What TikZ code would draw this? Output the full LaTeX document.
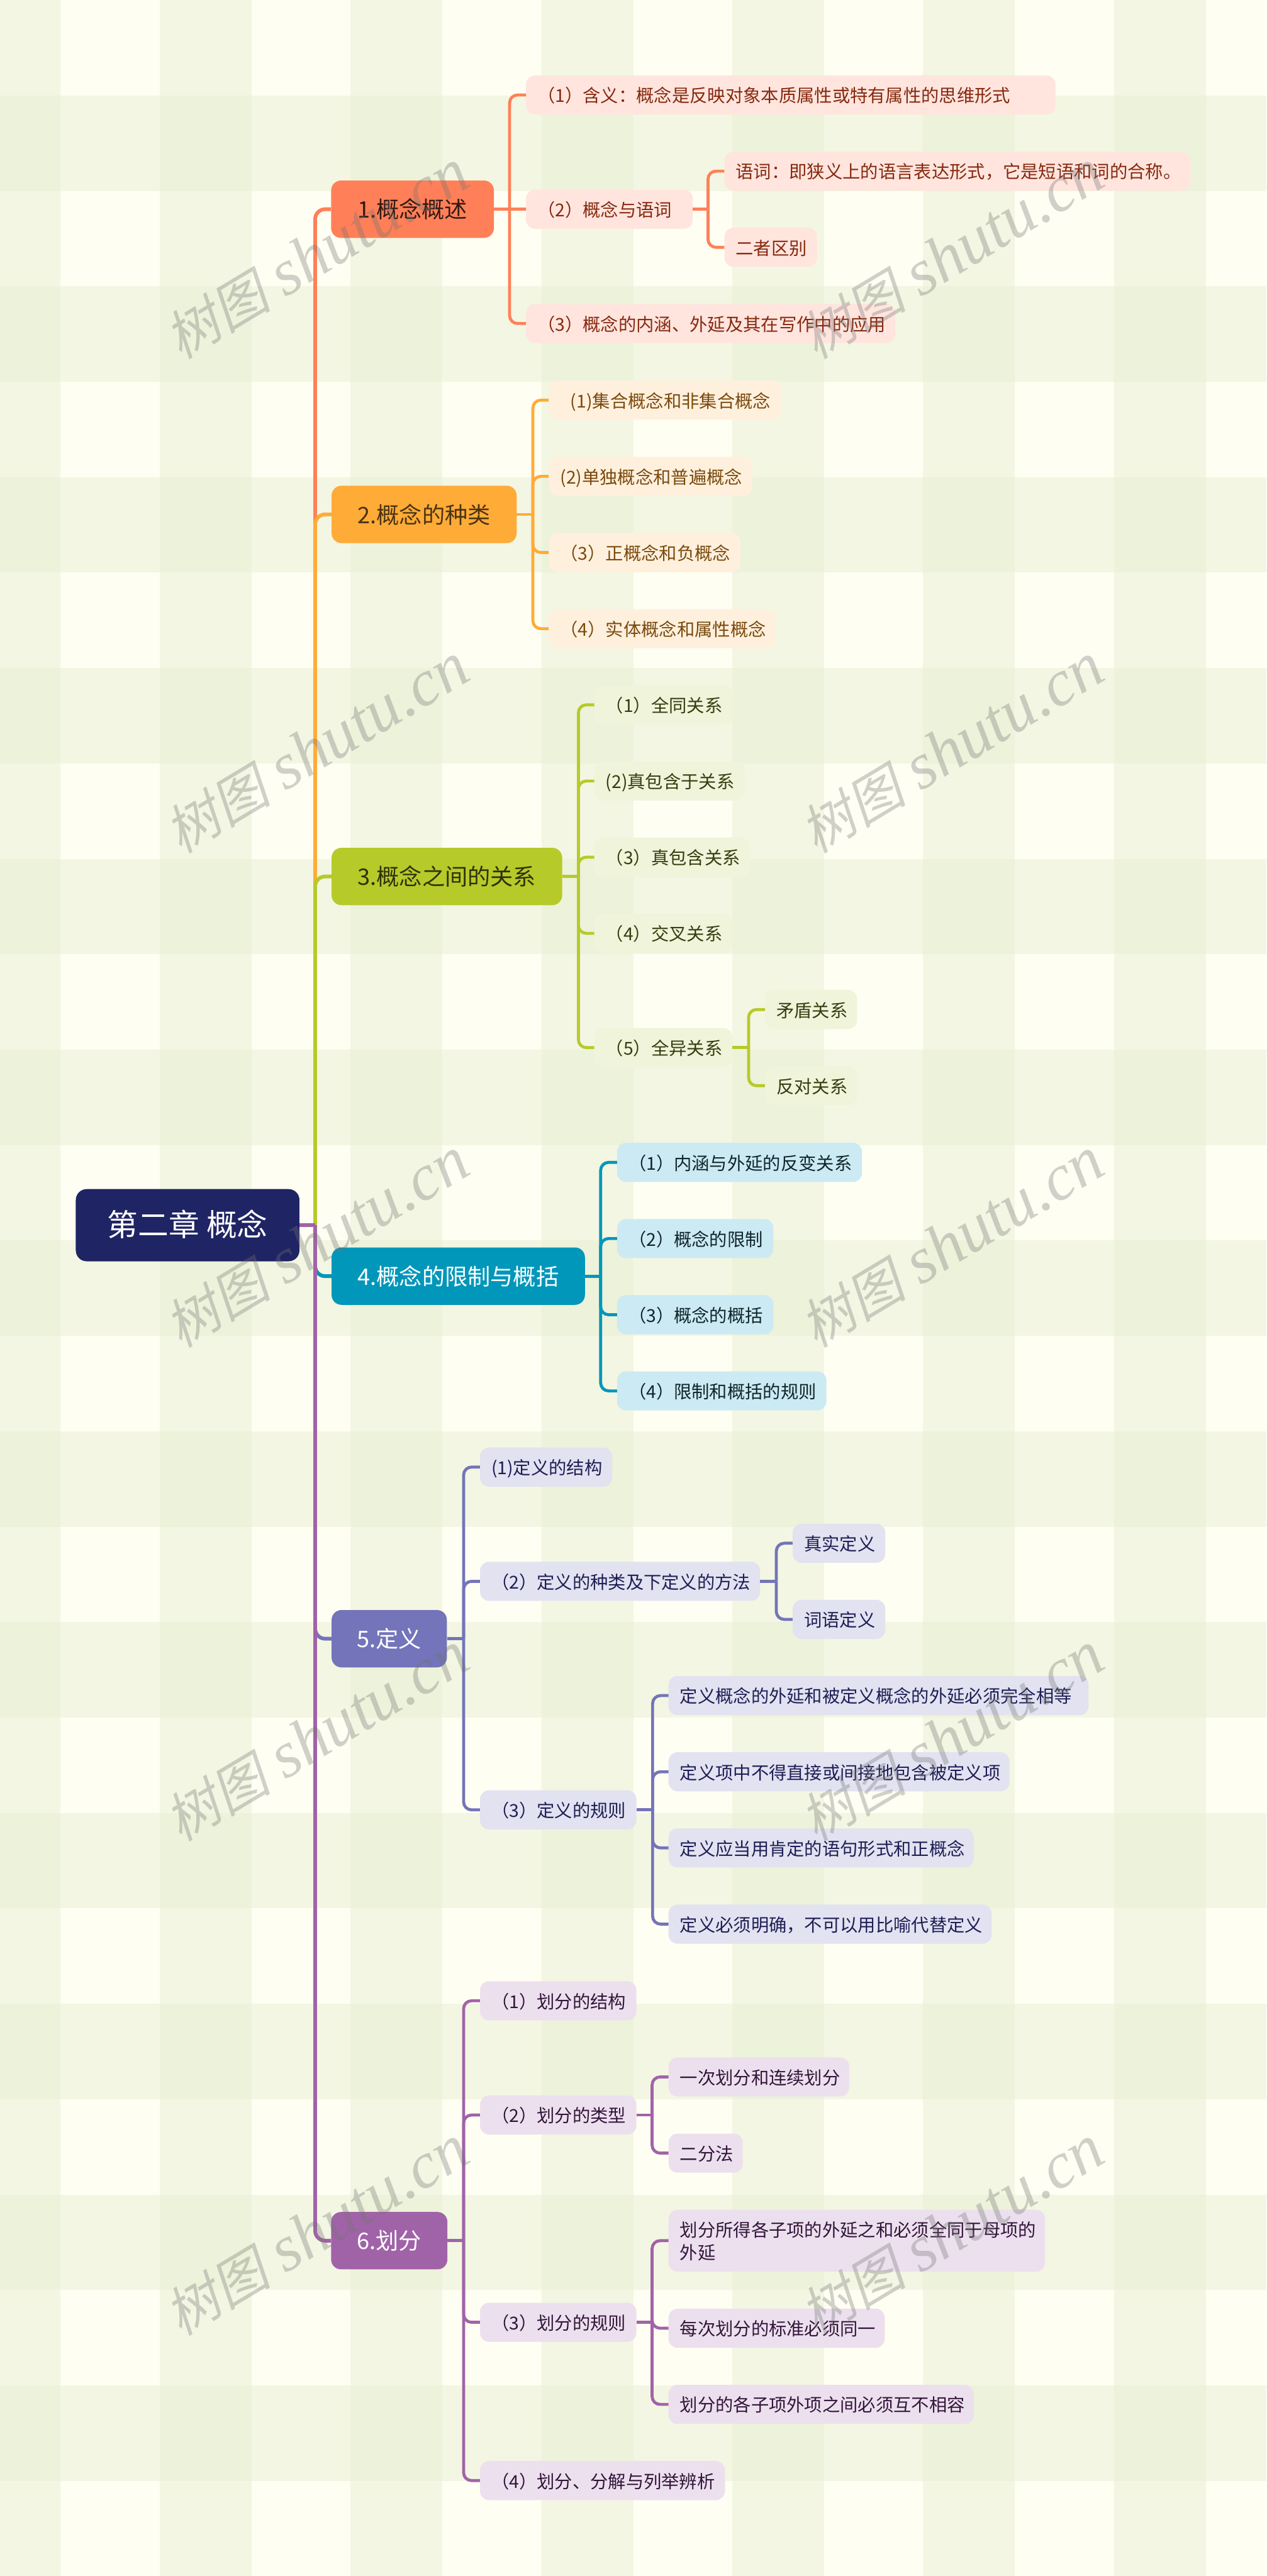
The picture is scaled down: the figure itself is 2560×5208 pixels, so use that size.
\documentclass[tikz,border=0pt]{standalone}
\usepackage{fontspec}
\setmainfont{Noto Sans CJK SC}
\newfontfamily\stampcjk[FakeSlant=0.22]{Noto Sans CJK SC}
\newfontfamily\stamplatin{Liberation Serif}
\usetikzlibrary{positioning}

\definecolor{paper}{HTML}{FFFEF2}
\definecolor{bandc}{HTML}{E9EFD4}
\definecolor{rootc}{HTML}{1F2464}
\definecolor{cola}{HTML}{FF8058}
\definecolor{colb}{HTML}{FFAB38}
\definecolor{colc}{HTML}{B6CA29}
\definecolor{cold}{HTML}{0097BA}
\definecolor{cole}{HTML}{7474BA}
\definecolor{colf}{HTML}{A163A8}
\definecolor{filla}{HTML}{FFE5DE}
\definecolor{fillb}{HTML}{FFF0DE}
\definecolor{fillc}{HTML}{EFF4DA}
\definecolor{filld}{HTML}{CCEAF3}
\definecolor{fille}{HTML}{E2E2F1}
\definecolor{fillf}{HTML}{ECE0EE}
\definecolor{inka}{HTML}{86290F}
\definecolor{inkb}{HTML}{7A4A0C}
\definecolor{inkc}{HTML}{363D10}
\definecolor{inkd}{HTML}{10252B}
\definecolor{inke}{HTML}{1E1E55}
\definecolor{inkf}{HTML}{33153A}

\begin{document}
\begin{tikzpicture}[
    x=1pt, y=-1pt,
    band/.style={fill=bandc, fill opacity=0.5},
    root/.style={anchor=west, fill=rootc, text=white, rounded corners=22pt, minimum height=146pt,
                 minimum width=452pt, inner sep=0pt, text height=50pt, text depth=5pt,
                 font=\fontsize{62}{70}\selectfont},
    topic/.style={anchor=west, rounded corners=20pt, minimum height=116pt, inner sep=0pt,
                  text height=42pt, text depth=6pt, font=\fontsize{46}{54}\selectfont},
    leaf/.style={anchor=west, rounded corners=18pt, minimum height=79pt, inner xsep=23pt, inner ysep=0pt,
                 align=left, text height=33pt, text depth=3pt, font=\fontsize{36}{46}\selectfont},
    leafa/.style={leaf, fill=filla, text=inka},
    leafb/.style={leaf, fill=fillb, text=inkb},
    leafc/.style={leaf, fill=fillc, text=inkc},
    leafd/.style={leaf, fill=filld, text=inkd},
    leafe/.style={leaf, fill=fille, text=inke},
    leaff/.style={leaf, fill=fillf, text=inkf},
    trunk/.style={line width=7.5pt, rounded corners=20pt},
    link/.style={line width=6pt, rounded corners=16pt},
    stamp/.style={rotate=31, text=black!55, text opacity=0.33, inner sep=0pt}
]

    % Background
    \useasboundingbox (0,0) rectangle (2560,5208);
    \clip (0,0) rectangle (2560,5208);
    \fill[paper] (0,0) rectangle (2560,5208);
    \foreach \k in {0,...,6}
        \fill[band] ({-63.3+385.8*\k},0) rectangle ({122.5+385.8*\k},5208);
    \foreach \k in {0,...,12}
        \fill[band] (0,{193+385.8*\k}) rectangle (2560,{386+385.8*\k});

    % Root
    \node[root] (root) at (153,2477) {第二章 概念};
    \coordinate (rootbus) at (637,2477);

    % Topics
    \node[topic, fill=cola, text=black!80!cola, minimum width=329pt] (topica) at (669,423) {1.概念概述};
    \node[topic, fill=colb, text=black!70!colb, minimum width=374pt] (topicb) at (670,1040) {2.概念的种类};
    \node[topic, fill=colc, text=black!75!colc, minimum width=466pt] (topicc) at (670,1772) {3.概念之间的关系};
    \node[topic, fill=cold, text=white, minimum width=512pt] (topicd) at (670,2580) {4.概念的限制与概括};
    \node[topic, fill=cole, text=white, minimum width=233pt] (topice) at (670,3313) {5.定义};
    \node[topic, fill=colf, text=white, minimum width=235pt] (topicf) at (669,4530) {6.划分};

    % Topic 1
    \node[leafa, text width=1024pt] (a1) at (1063,192) {（1）含义：概念是反映对象本质属性或特有属性的思维形式};
    \node[leafa, text width=291pt] (a2) at (1063,423) {（2）概念与语词};
    \node[leafa, text width=700pt] (a3) at (1063,654) {（3）概念的内涵、外延及其在写作中的应用};
    \node[leafa, text width=896pt] (a2x) at (1464,346) {语词：即狭义上的语言表达形式，它是短语和词的合称。};
    \node[leafa, text width=141pt] (a2y) at (1464,500) {二者区别};
    \coordinate (busa) at (1030,423);
    \coordinate (busax) at (1431,423);

    % Topic 2
    \node[leafb, text width=425pt] (b1) at (1109,809) {\hspace*{21pt}(1)集合概念和非集合概念};
    \node[leafb, text width=365pt] (b2) at (1109,963) {(2)单独概念和普遍概念};
    \node[leafb, text width=341pt] (b3) at (1109,1117) {（3）正概念和负概念};
    \node[leafb, text width=413pt] (b4) at (1109,1271) {（4）实体概念和属性概念};
    \coordinate (busb) at (1077,1040);

    % Topic 3
    \node[leafc, text width=233pt] (c1) at (1201,1425) {（1）全同关系};
    \node[leafc, text width=257pt] (c2) at (1201,1579) {(2)真包含于关系};
    \node[leafc, text width=269pt] (c3) at (1201,1733) {（3）真包含关系};
    \node[leafc, text width=233pt] (c4) at (1201,1887) {（4）交叉关系};
    \node[leafc, text width=233pt] (c5) at (1201,2118) {（5）全异关系};
    \node[leafc, text width=140pt] (c5x) at (1546,2041) {矛盾关系};
    \node[leafc, text width=140pt] (c5y) at (1546,2195) {反对关系};
    \coordinate (busc) at (1169,1772);
    \coordinate (buscx) at (1513,2118);

    % Topic 4
    \node[leafd, text width=449pt] (d1) at (1247,2350) {（1）内涵与外延的反变关系};
    \node[leafd, text width=270pt] (d2) at (1247,2504) {（2）概念的限制};
    \node[leafd, text width=270pt] (d3) at (1247,2658) {（3）概念的概括};
    \node[leafd, text width=377pt] (d4) at (1247,2812) {（4）限制和概括的规则};
    \coordinate (busd) at (1214,2580);

    % Topic 5
    \node[leafe, text width=221pt] (e1) at (970,2966) {(1)定义的结构};
    \node[leafe, text width=520pt] (e2) at (970,3197) {（2）定义的种类及下定义的方法};
    \node[leafe, text width=270pt] (e3) at (970,3659) {（3）定义的规则};
    \node[leafe, text width=141pt] (e2x) at (1602,3120) {真实定义};
    \node[leafe, text width=141pt] (e2y) at (1602,3274) {词语定义};
    \node[leafe, text width=803pt] (e3a) at (1351,3428) {定义概念的外延和被定义概念的外延必须完全相等};
    \node[leafe, text width=643pt] (e3b) at (1351,3582) {定义项中不得直接或间接地包含被定义项};
    \node[leafe, text width=571pt] (e3c) at (1351,3736) {定义应当用肯定的语句形式和正概念};
    \node[leafe, text width=607pt] (e3d) at (1351,3890) {定义必须明确，不可以用比喻代替定义};
    \coordinate (buse) at (937,3313);
    \coordinate (busex) at (1569,3197);
    \coordinate (busey) at (1319,3659);

    % Topic 6
    \node[leaff, text width=270pt] (f1) at (970,4045) {（1）划分的结构};
    \node[leaff, text width=270pt] (f2) at (970,4276) {（2）划分的类型};
    \node[leaff, text width=270pt] (f3) at (970,4695) {（3）划分的规则};
    \node[leaff, text width=449pt] (f4) at (970,5015) {（4）划分、分解与列举辨析};
    \node[leaff, text width=319pt] (f2x) at (1351,4199) {一次划分和连续划分};
    \node[leaff, text width=104pt] (f2y) at (1351,4353) {二分法};
    \node[leaff, text width=715pt, minimum height=125pt, text depth=49pt] (f3a) at (1351,4530) {划分所得各子项的外延之和必须全同于母项的\\外延};
    \node[leaff, text width=391pt] (f3b) at (1351,4707) {每次划分的标准必须同一};
    \node[leaff, text width=571pt] (f3c) at (1351,4861) {划分的各子项外项之间必须互不相容};
    \coordinate (busf) at (937,4530);
    \coordinate (busfx) at (1318,4276);
    \coordinate (busfy) at (1318,4695);

    % Trunk
    \draw[trunk, draw=cola] (rootbus) |- (topica.west);
    \draw[trunk, draw=colb] (rootbus) |- (topicb.west);
    \draw[trunk, draw=colc] (rootbus) |- (topicc.west);
    \draw[trunk, draw=cold] (rootbus) |- (topicd.west);
    \draw[trunk, draw=cole] (rootbus) |- (topice.west);
    \draw[trunk, draw=colf] (rootbus) |- (topicf.west);
    \draw[trunk, draw=colf] (root.east) -- (rootbus);

    % Links of topic 1
    \draw[link, draw=cola] (topica.east) -- (busa);
    \draw[link, draw=cola] (busa) |- (a1.west);
    \draw[link, draw=cola] (busa) -- (a2.west);
    \draw[link, draw=cola] (busa) |- (a3.west);
    \draw[link, draw=cola] (a2.east) -- (busax);
    \draw[link, draw=cola] (busax) |- (a2x.west);
    \draw[link, draw=cola] (busax) |- (a2y.west);

    % Links of topic 2
    \draw[link, draw=colb] (topicb.east) -- (busb);
    \draw[link, draw=colb] (busb) |- (b1.west);
    \draw[link, draw=colb] (busb) |- (b2.west);
    \draw[link, draw=colb] (busb) |- (b3.west);
    \draw[link, draw=colb] (busb) |- (b4.west);

    % Links of topic 3
    \draw[link, draw=colc] (topicc.east) -- (busc);
    \draw[link, draw=colc] (busc) |- (c1.west);
    \draw[link, draw=colc] (busc) |- (c2.west);
    \draw[link, draw=colc] (busc) |- (c3.west);
    \draw[link, draw=colc] (busc) |- (c4.west);
    \draw[link, draw=colc] (busc) |- (c5.west);
    \draw[link, draw=colc] (c5.east) -- (buscx);
    \draw[link, draw=colc] (buscx) |- (c5x.west);
    \draw[link, draw=colc] (buscx) |- (c5y.west);

    % Links of topic 4
    \draw[link, draw=cold] (topicd.east) -- (busd);
    \draw[link, draw=cold] (busd) |- (d1.west);
    \draw[link, draw=cold] (busd) |- (d2.west);
    \draw[link, draw=cold] (busd) |- (d3.west);
    \draw[link, draw=cold] (busd) |- (d4.west);

    % Links of topic 5
    \draw[link, draw=cole] (topice.east) -- (buse);
    \draw[link, draw=cole] (buse) |- (e1.west);
    \draw[link, draw=cole] (buse) |- (e2.west);
    \draw[link, draw=cole] (buse) |- (e3.west);
    \draw[link, draw=cole] (e2.east) -- (busex);
    \draw[link, draw=cole] (busex) |- (e2x.west);
    \draw[link, draw=cole] (busex) |- (e2y.west);
    \draw[link, draw=cole] (e3.east) -- (busey);
    \draw[link, draw=cole] (busey) |- (e3a.west);
    \draw[link, draw=cole] (busey) |- (e3b.west);
    \draw[link, draw=cole] (busey) |- (e3c.west);
    \draw[link, draw=cole] (busey) |- (e3d.west);

    % Links of topic 6
    \draw[link, draw=colf] (topicf.east) -- (busf);
    \draw[link, draw=colf] (busf) |- (f1.west);
    \draw[link, draw=colf] (busf) |- (f2.west);
    \draw[link, draw=colf] (busf) |- (f3.west);
    \draw[link, draw=colf] (busf) |- (f4.west);
    \draw[link, draw=colf] (f2.east) -- (busfx);
    \draw[link, draw=colf] (busfx) |- (f2x.west);
    \draw[link, draw=colf] (busfx) |- (f2y.west);
    \draw[link, draw=colf] (f3.east) -- (busfy);
    \draw[link, draw=colf] (busfy) |- (f3a.west);
    \draw[link, draw=colf] (busfy) |- (f3b.west);
    \draw[link, draw=colf] (busfy) |- (f3c.west);

    % Watermarks
    \newcommand{\stamptext}{{\stampcjk\fontsize{108}{110}\selectfont 树图}\hspace{30pt}{\stamplatin\itshape\fontsize{132}{140}\selectfont shutu.cn}}
    \node[stamp] (stampa) at (640,515) {\stamptext};
    \node[stamp] (stampb) at (1924,515) {\stamptext};
    \node[stamp] (stampc) at (640,1514) {\stamptext};
    \node[stamp] (stampd) at (1924,1514) {\stamptext};
    \node[stamp] (stampe) at (640,2513) {\stamptext};
    \node[stamp] (stampf) at (1924,2513) {\stamptext};
    \node[stamp] (stampg) at (640,3512) {\stamptext};
    \node[stamp] (stamph) at (1924,3512) {\stamptext};
    \node[stamp] (stampi) at (640,4511) {\stamptext};
    \node[stamp] (stampj) at (1924,4511) {\stamptext};

\end{tikzpicture}
\end{document}
